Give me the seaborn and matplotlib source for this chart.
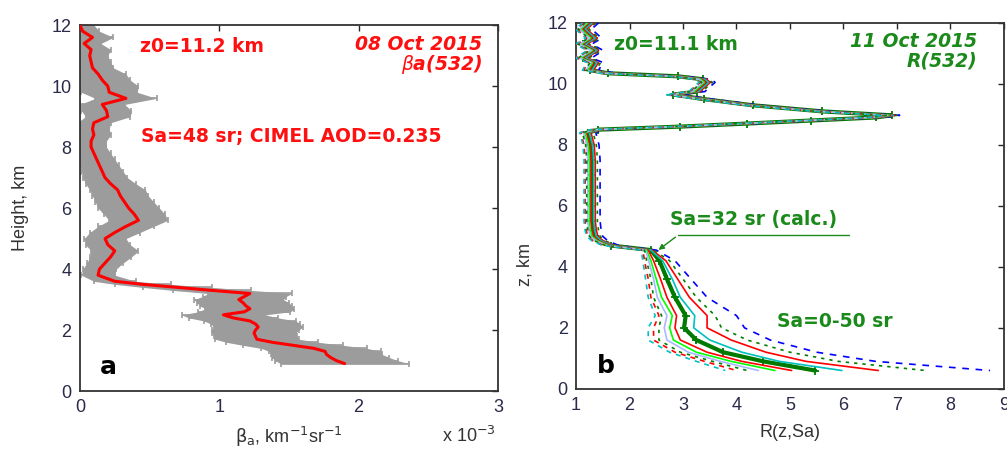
import numpy as np
import pandas as pd
import matplotlib
matplotlib.use("Agg")
import matplotlib.pyplot as plt
import seaborn as sns

# ---- panel a: aerosol backscatter profile, 08 Oct 2015 (x 1e-3 km-1 sr-1)
z_a = [12.0, 11.8, 11.6, 11.4, 11.2, 11.0, 10.8, 10.6, 10.4, 10.2, 10.0, 9.8, 9.6, 9.4,
       9.2, 9.0, 8.8, 8.6, 8.4, 8.2, 8.0, 7.8, 7.6, 7.4, 7.2, 7.0, 6.8, 6.6, 6.4, 6.2,
       6.0, 5.8, 5.6, 5.4, 5.2, 5.0, 4.8, 4.6, 4.4, 4.2, 4.0, 3.8, 3.6, 3.5, 3.4, 3.3,
       3.2, 3.1, 3.0, 2.9, 2.8, 2.7, 2.6, 2.5, 2.4, 2.3, 2.2, 2.1, 2.0, 1.9, 1.8, 1.7,
       1.6, 1.5, 1.4, 1.3, 1.2, 1.1, 1.0, 0.9]
beta_a = [0.0, 0.02, 0.09, 0.03, 0.08, 0.07, 0.08, 0.09, 0.13, 0.16, 0.2, 0.21, 0.33, 0.16,
          0.19, 0.2, 0.1, 0.09, 0.1, 0.08, 0.08, 0.1, 0.12, 0.14, 0.16, 0.18, 0.22, 0.27, 0.29, 0.32,
          0.35, 0.39, 0.42, 0.33, 0.25, 0.18, 0.2, 0.25, 0.22, 0.18, 0.14, 0.13, 0.25, 0.45, 0.7, 0.95,
          1.22, 1.18, 1.14, 1.17, 1.19, 1.22, 1.18, 1.03, 1.1, 1.22, 1.26, 1.28, 1.26, 1.25, 1.26, 1.27,
          1.38, 1.53, 1.68, 1.76, 1.77, 1.8, 1.84, 1.9]
err_a = [0.1, 0.12, 0.15, 0.12, 0.14, 0.13, 0.14, 0.15, 0.2, 0.2, 0.22, 0.2, 0.22, 0.16,
         0.18, 0.16, 0.12, 0.12, 0.12, 0.11, 0.11, 0.12, 0.13, 0.14, 0.15, 0.16, 0.18, 0.2, 0.2, 0.21,
         0.22, 0.22, 0.21, 0.2, 0.18, 0.15, 0.16, 0.17, 0.15, 0.13, 0.12, 0.12, 0.15, 0.2, 0.25, 0.28,
         0.3, 0.3, 0.32, 0.33, 0.33, 0.32, 0.33, 0.3, 0.32, 0.33, 0.32, 0.32, 0.31, 0.3, 0.3, 0.3,
         0.33, 0.36, 0.38, 0.4, 0.4, 0.42, 0.44, 0.46]

# ---- panel b: scattering ratio R(z,Sa), 11 Oct 2015
z_up = [12.0, 11.8, 11.5, 11.3, 11.1, 10.85, 10.7, 10.45, 10.35, 10.25, 10.15, 10.05, 9.9,
        9.75, 9.65, 9.5, 9.3, 9.1, 8.97, 8.9, 8.8, 8.7, 8.6, 8.5, 8.4, 8.2, 8.0, 7.5, 7.0,
        6.5, 6.0, 5.5, 5.2, 5.0, 4.85, 4.7]
R_up = [1.27, 1.14, 1.33, 1.14, 1.36, 1.14, 1.36, 1.27, 1.6, 2.9, 3.38, 3.45, 3.35,
        3.26, 2.82, 3.4, 4.3, 5.6, 6.9, 6.6, 5.4, 4.2, 2.95, 1.42, 1.22, 1.25, 1.28, 1.3, 1.3,
        1.3, 1.3, 1.3, 1.32, 1.35, 1.45, 1.65]
z_low = [4.55, 4.2, 3.6, 3.0, 2.4, 2.0, 1.6, 1.2, 0.9, 0.6]

sa_values = [50, 45, 40, 35, 32, 30, 25, 20, 15, 10, 5]
upper_shift = [0.15, 0.1, 0.06, 0.03, 0.0, -0.02, -0.05, -0.08, -0.1, -0.13, -0.15]
R_low = {
    50: [2.5, 2.85, 3.15, 3.45, 4.0, 4.15, 4.63, 5.5, 6.6, 8.74],
    45: [2.45, 2.75, 3.0, 3.25, 3.6, 3.72, 4.2, 5.0, 5.9, 7.53],
    40: [2.42, 2.68, 2.9, 3.12, 3.45, 3.45, 3.9, 4.55, 5.3, 6.65],
    35: [2.4, 2.62, 2.8, 2.95, 3.22, 3.2, 3.5, 4.1, 4.8, 5.97],
    32: [2.4, 2.56, 2.7, 2.85, 3.05, 3.02, 3.25, 3.75, 4.5, 5.47],
    30: [2.35, 2.45, 2.58, 2.7, 2.88, 2.85, 2.95, 3.45, 4.1, 5.03],
    25: [2.32, 2.4, 2.5, 2.6, 2.8, 2.75, 2.82, 3.25, 3.9, 4.72],
    20: [2.3, 2.36, 2.45, 2.52, 2.7, 2.65, 2.7, 3.1, 3.7, 4.41],
    15: [2.28, 2.32, 2.4, 2.45, 2.6, 2.55, 2.55, 2.95, 3.55, 4.2],
    10: [2.25, 2.28, 2.35, 2.4, 2.55, 2.45, 2.45, 2.85, 3.4, 4.0],
    5: [2.22, 2.25, 2.3, 2.35, 2.48, 2.35, 2.35, 2.75, 3.25, 3.79],
}
line_colors = ["#0000ff", "#008000", "#ff0000", "#00c0c0", "#007a00", "#ff0000",
               "#00ff00", "#a8b8ff", "#008000", "#ff0000", "#00c0c0"]
line_styles = [(0, (4, 4)), (0, (2, 3)), "-", "-", "-", "-", "-", "-",
               (0, (2, 3)), (0, (3, 3)), (0, (3, 3))]

sns.set_style("white")
tick_font = ["Liberation Sans", "DejaVu Sans"]
txt_font = ["DejaVu Sans"]
txt_size = 13.5

fig = plt.figure(figsize=(10.07, 4.5), dpi=100)
ax1 = fig.add_axes([0.0794, 0.131, 0.415, 0.813])
ax2 = fig.add_axes([0.572, 0.136, 0.425, 0.813])

# panel a
lo = [b - e for b, e in zip(beta_a, err_a)]
hi = [b + e for b, e in zip(beta_a, err_a)]
ax1.fill_betweenx(z_a, lo, hi, color="#9c9c9c", lw=0, zorder=1)
ax1.errorbar(beta_a, z_a, xerr=err_a, fmt="none", ecolor="#9c9c9c",
             elinewidth=1.2, capsize=2.5, capthick=1.2, zorder=1)
df_a = pd.DataFrame({"beta": beta_a, "z": z_a})
sns.lineplot(data=df_a, x="beta", y="z", sort=False, orient="y", estimator=None,
             color="#ff0000", linewidth=2.2, ax=ax1, zorder=3)
ax1.set_xlim(0, 3)
ax1.set_ylim(0, 12)
ax1.set_xticks([0, 1, 2, 3])
ax1.set_yticks([0, 2, 4, 6, 8, 10, 12])
ax1.set_xlabel(r"$\mathrm{\beta_a}$, km$^{-1}$sr$^{-1}$", family=tick_font, fontsize=13,
               color="#333333", labelpad=6)
ax1.set_ylabel("Height, km", family=tick_font, fontsize=13, color="#333333")
ax1.yaxis.set_label_coords(-0.122, 0.5)
ax1.text(0.93, -0.122, r"x 10$^{-3}$", transform=ax1.transAxes, ha="center", va="center",
         family=tick_font, fontsize=13, color="#333333")
red = "#ff1010"
ax1.text(0.43, 11.3, "z0=11.2 km", color=red, fontsize=txt_size, fontweight="bold",
         family=txt_font, va="center")
ax1.text(2.89, 11.38, "08 Oct 2015", color=red, fontsize=txt_size, fontweight="bold",
         style="italic", family=txt_font, ha="right", va="center")
ax1.text(2.89, 10.72, r"$\beta$a(532)", color=red, fontsize=txt_size, fontweight="bold",
         style="italic", family=txt_font, ha="right", va="center")
ax1.text(0.44, 8.36, "Sa=48 sr; CIMEL AOD=0.235", color=red, fontsize=txt_size,
         fontweight="bold", family=txt_font, va="center")
ax1.text(0.14, 0.8, "a", color="black", fontsize=18, fontweight="bold",
         family=txt_font, va="center")

# panel b
for i, sa in enumerate(sa_values):
    shift = upper_shift[i]
    df_b = pd.DataFrame({
        "z": z_up + z_low,
        "R": [r + shift for r in R_up] + R_low[sa],
    })
    if sa == 32:
        sns.lineplot(data=df_b, x="R", y="z", sort=False, orient="y", estimator=None,
                     color=line_colors[i], linewidth=3.0, marker="+", markersize=6,
                     markeredgewidth=1.3, markeredgecolor=line_colors[i],
                     ax=ax2, zorder=2)
    else:
        sns.lineplot(data=df_b, x="R", y="z", sort=False, orient="y", estimator=None,
                     color=line_colors[i], linestyle=line_styles[i], linewidth=1.2,
                     ax=ax2, zorder=3)
ax2.set_xlim(1, 9)
ax2.set_ylim(0, 12)
ax2.set_xticks(range(1, 10))
ax2.set_yticks([0, 2, 4, 6, 8, 10, 12])
ax2.set_xlabel("R(z,Sa)", family=tick_font, fontsize=13, color="#333333", labelpad=7)
ax2.set_ylabel("z, km", family=tick_font, fontsize=13, color="#333333")
ax2.yaxis.set_label_coords(-0.1, 0.34)
green = "#1a8a1a"
ax2.text(1.71, 11.28, "z0=11.1 km", color=green, fontsize=txt_size, fontweight="bold",
         family=txt_font, va="center")
ax2.text(8.5, 11.4, "11 Oct 2015", color=green, fontsize=txt_size, fontweight="bold",
         style="italic", family=txt_font, ha="right", va="center")
ax2.text(8.5, 10.75, "R(532)", color=green, fontsize=txt_size, fontweight="bold",
         style="italic", family=txt_font, ha="right", va="center")
ax2.text(2.76, 5.55, "Sa=32 sr (calc.)", color=green, fontsize=txt_size, fontweight="bold",
         family=txt_font, va="center")
ax2.annotate("", xy=(2.5, 4.5), xytext=(2.9, 5.03),
             arrowprops=dict(arrowstyle="-|>", color=green, lw=1.0, mutation_scale=8))
ax2.plot([2.9, 6.1], [5.03, 5.03], color=green, lw=1.0)
ax2.text(4.76, 2.2, "Sa=0-50 sr", color=green, fontsize=txt_size, fontweight="bold",
         family=txt_font, va="center")
ax2.text(1.39, 0.75, "b", color="black", fontsize=18, fontweight="bold",
         family=txt_font, va="center")

for ax in (ax1, ax2):
    ax.tick_params(direction="in", length=4, width=1, top=True, right=True,
                   labelsize=13, labelcolor="#2a2a4a", pad=6)
    for lab in ax.get_xticklabels() + ax.get_yticklabels():
        lab.set_family(tick_font)
    for sp in ax.spines.values():
        sp.set_color("#333333")
        sp.set_linewidth(1.3)
        sp.set_visible(True)

fig.savefig("out.png", dpi=100)
